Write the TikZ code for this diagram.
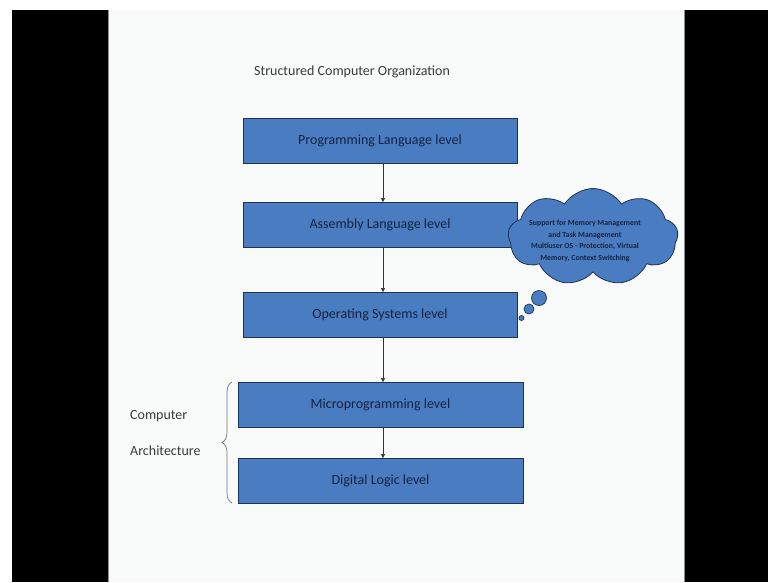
\documentclass[tikz,border=0pt]{standalone}
\usepackage{fontspec}
\setmainfont{Carlito}
\usetikzlibrary{shapes.symbols,decorations.pathreplacing,arrows.meta}
\definecolor{slidebg}{HTML}{F9FAFA}
\definecolor{boxfill}{HTML}{4A7CC2}
\definecolor{boxline}{HTML}{1E3350}
\definecolor{boxtext}{HTML}{15233F}
\definecolor{plaintext}{HTML}{3A3A3A}
\tikzset{
  level/.style={draw=boxline, line width=0.9pt, fill=boxfill, text=boxtext,
    minimum height=45pt, inner sep=0pt, font=\fontsize{14}{16}\selectfont},
  flow/.style={-{Triangle[length=4pt,width=4pt]}, line width=0.5pt, draw=black!80},
  bubble/.style={circle, draw=boxline, line width=0.7pt, fill=boxfill, inner sep=0pt},
  plain/.style={text=plaintext, font=\fontsize{14}{16}\selectfont, inner sep=0pt},
}
\begin{document}
\begin{tikzpicture}[x=1pt,y=-1pt]
\useasboundingbox (0,0) rectangle (768,582);
% frame: black side bars and the slide
\fill[white] (0,0) rectangle (768,582);
\fill[black] (12,10) rectangle (108,582);
\fill[black] (685,10) rectangle (768,582);
\fill[slidebg] (108,10) rectangle (685,582);
\draw[black!45, line width=0.6pt] (108.5,10) -- (108.5,582);
\draw[black!45, line width=0.6pt] (684.5,10) -- (684.5,582);

% title
\node[plain, anchor=west] (title) at (254,72) {Structured Computer Organization};

% the levels
\node[level, minimum width=274pt] (pl) at (380,141) {Programming Language level};
\node[level, minimum width=274pt] (al) at (380,224.5) {Assembly Language level};
\node[level, minimum width=274pt] (os) at (380,314.5) {Operating Systems level};
\node[level, minimum width=285pt] (mp) at (380.5,404.5) {Microprogramming level};
\node[level, minimum width=285pt] (dl) at (380.5,480.5) {Digital Logic level};

% arrows between the levels
\coordinate (a1) at (383,163.5);
\coordinate (b1) at (383,202);
\coordinate (a2) at (383,247);
\coordinate (b2) at (383,292);
\coordinate (a3) at (383,337);
\coordinate (b3) at (383,382);
\coordinate (a4) at (383,427);
\coordinate (b4) at (383,458);
\draw[flow] (a1) -- (b1);
\draw[flow] (a2) -- (b2);
\draw[flow] (a3) -- (b3);
\draw[flow] (a4) -- (b4);

% thought cloud
\node[cloud, cloud puffs=9, cloud puff arc=115, aspect=1.8, draw=boxline,
  line width=0.8pt, fill=boxfill, minimum width=170pt, minimum height=97pt,
  inner sep=0pt] (cloud) at (593,237) {};
\node[text=boxtext, align=center, inner sep=0pt,
  font=\fontsize{7.8}{11.4}\selectfont\bfseries] (cloudtext) at (585,241)
  {Support for Memory Management\\and Task Management\\Multiuser OS - Protection, Virtual\\Memory, Context Switching};
\node[bubble, minimum size=15pt] (bub1) at (539,298) {};
\node[bubble, minimum size=10pt] (bub2) at (529,309) {};
\node[bubble, minimum size=5pt] (bub3) at (521.5,318) {};

% computer architecture brace
\coordinate (br1) at (232,503);
\coordinate (br2) at (232,382);
\draw[black!55, line width=0.7pt, decorate,
  decoration={brace, amplitude=10pt}] (br1) -- (br2);
\node[plain, anchor=west] (ca1) at (130,416) {Computer};
\node[plain, anchor=west] (ca2) at (130,451) {Architecture};
\end{tikzpicture}
\end{document}
